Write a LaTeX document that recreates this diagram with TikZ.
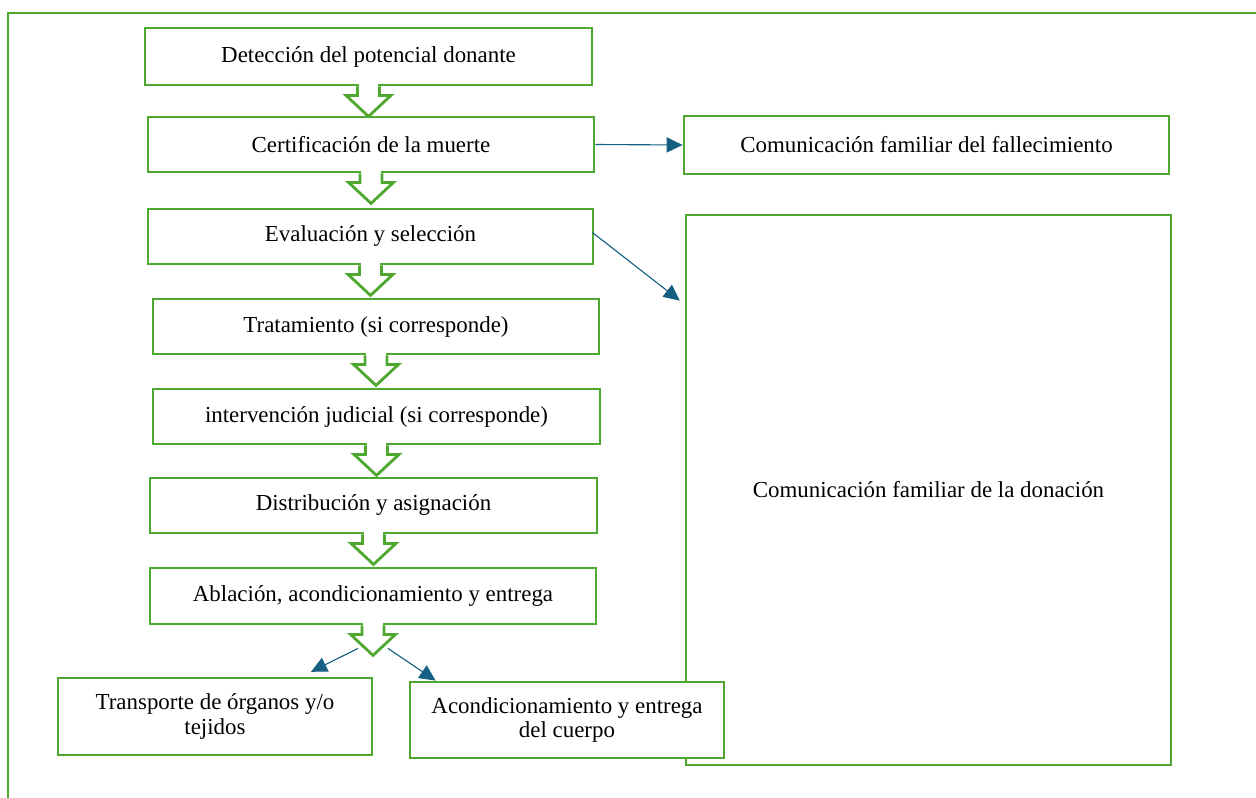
\documentclass[tikz,border=0pt]{standalone}
\usepackage{fontspec}
\setmainfont{Liberation Serif}
\usetikzlibrary{arrows.meta,calc}
\definecolor{verde}{HTML}{4EA72E}
\definecolor{azul}{HTML}{156082}

\begin{document}
\begin{tikzpicture}[
  caja/.style={draw=verde,line width=2pt,fill=white,align=center,inner sep=2pt,
    font=\fontsize{16.3}{17.5}\selectfont},
  flecha/.style={draw=azul,line width=0.8pt,-{Triangle[length=0.4cm,width=0.38cm]}},
  hueca/.pic={
    \fill[white] (-0.24,0.07) rectangle (0.24,-0.3);
    \draw[verde,line width=2pt,fill=white,line join=miter] (-0.275,0) -- (-0.275,-0.225) -- (-0.5625,-0.225)
      -- (0,-0.75) -- (0.5625,-0.225) -- (0.275,-0.225) -- (0.275,0);
    \coordinate (-i) at (-0.375,-0.575);
    \coordinate (-d) at (0.375,-0.575);
  }
]
\useasboundingbox (0,0) rectangle (31.4,-19.95);

% marco
\draw[verde,line width=2pt] (31.4,-0.325) -- (0.2,-0.325) -- (0.2,-19.95);

% columna de pasos
\node[caja,minimum width=11.175cm,minimum height=1.425cm] (b1) at (9.2125,-1.4125) {Detección del potencial donante};
\node[caja,minimum width=11.15cm,minimum height=1.375cm] (b2) at (9.275,-3.6125) {Certificación de la muerte};
\node[caja,minimum width=11.125cm,minimum height=1.375cm] (b3) at (9.2625,-5.9125) {Evaluación y selección};
\node[caja,minimum width=11.15cm,minimum height=1.375cm] (b4) at (9.4,-8.1625) {Tratamiento (si corresponde)};
\node[caja,minimum width=11.175cm,minimum height=1.375cm] (b5) at (9.4125,-10.4125) {intervención judicial (si corresponde)};
\node[caja,minimum width=11.175cm,minimum height=1.375cm] (b6) at (9.3375,-12.6375) {Distribución y asignación};
\node[caja,minimum width=11.15cm,minimum height=1.4cm] (b7) at (9.325,-14.9) {Ablación, acondicionamiento y entrega};

\foreach \b in {b1,b2,b3,b4,b5,b6,b7}
  \pic (h\b) at (\b.south) {hueca};

% comunicacion familiar
\node[caja,minimum width=12.125cm,minimum height=1.45cm] (f1) at (23.1625,-3.625) {Comunicación familiar del fallecimiento};
\node[caja,minimum width=12.125cm,minimum height=13.75cm] (f2) at (23.2125,-12.25) {Comunicación familiar de la donación};

% salidas
\node[caja,minimum width=7.85cm,minimum height=1.925cm] (t1) at (5.375,-17.9125) {Transporte de órganos y/o\\tejidos};
\node[caja,minimum width=7.85cm,minimum height=1.9cm] (t2) at (14.175,-18) {Acondicionamiento y entrega\\del cuerpo};

\coordinate (e3) at ($(f2.north west)+(-0.12,-2.175)$);
\coordinate (e8) at ($(t1.north)+(2.4,0.12)$);
\coordinate (e9) at ($(t2.north west)+(0.675,0)$);

\draw[flecha] (b2.east) -- (f1.west);
\draw[flecha] ($(b3.east)+(-0.05,0.1)$) -- (e3);
\draw[flecha] (hb7-i) -- (e8);
\draw[flecha] (hb7-d) -- (e9);

\end{tikzpicture}
\end{document}
